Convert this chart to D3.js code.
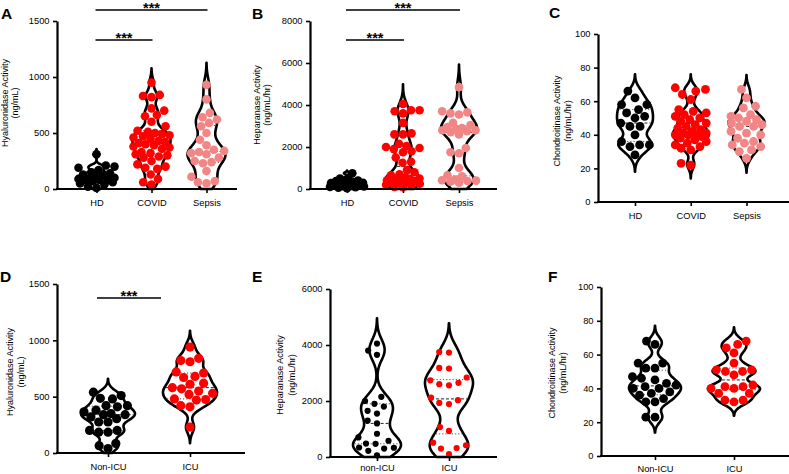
<!DOCTYPE html>
<html><head><meta charset="utf-8">
<script src="https://cdn.jsdelivr.net/npm/d3@7"></script>
<style>
body{margin:0;background:#fff}
text{font-family:"Liberation Sans",Arial,Helvetica,sans-serif;fill:#000}
</style>
</head><body>
<svg id="chart" width="789" height="474"></svg>
<script>
// ---------------- DATA ----------------
const groupCats = ["HD", "COVID", "Sepsis"];
const icuCatsD = ["Non-ICU", "ICU"];
const icuCatsE = ["non-ICU", "ICU"];
const icuCatsF = ["Non-ICU", "ICU"];

const hyalTicks = [0, 500, 1000, 1500];
const hepTicks = [0, 2000, 4000, 6000, 8000];
const chonTicks = [0, 20, 40, 60, 80, 100];
const icuHyalTicks = [0, 500, 1000, 1500];
const icuHepTicks = [0, 2000, 4000, 6000];
const icuChonTicks = [0, 20, 40, 60, 80, 100];

// A: Hyaluronidase (ng/mL)
const hyalHD = [310, 210, 200, 190, 170, 150, 140, 130, 120, 110, 100, 100, 90, 90, 80, 80, 70, 60, 50, 40, 20, 10];
const hyalCOVID = [950, 840, 830, 820, 720, 700, 660, 650, 600, 560, 520, 510, 500, 490, 480, 470, 460, 450, 430, 420, 410, 400, 390, 380, 370, 360, 330, 320, 310, 300, 290, 280, 250, 220, 200, 190, 180, 130, 90, 60, 40];
const hyalSepsis = [930, 800, 680, 640, 620, 590, 560, 500, 440, 390, 350, 340, 330, 320, 310, 280, 250, 240, 230, 160, 110, 70, 60, 50];

// B: Heparanase (ng/mL/hr)
const hepHD = [750, 500, 450, 400, 380, 350, 320, 300, 280, 260, 240, 220, 200, 180, 160, 140, 120, 100, 80, 60, 40];
const hepCOVID = [4050, 3750, 3750, 3700, 3600, 3150, 2650, 2600, 2600, 2150, 2050, 2000, 1950, 1900, 1800, 1750, 1500, 1300, 1250, 900, 800, 700, 650, 550, 500, 480, 450, 420, 400, 380, 350, 320, 300, 250, 200, 150, 100, 80];
const hepSepsis = [4850, 3700, 3650, 3600, 3550, 3150, 3050, 2950, 2900, 2850, 2800, 2800, 2750, 2700, 2600, 1950, 1750, 1700, 1000, 650, 600, 450, 420, 400, 380, 350, 300];

// C: Chondroitinase (ng/mL/hr)
const chonHD = [66, 62, 58, 58, 55, 53, 51, 50, 47, 45, 45, 40, 36, 34, 34, 33, 28];
const chonCOVID = [68, 67, 66, 64, 61, 55, 54, 53, 52, 51, 50, 49, 48, 47, 46, 45, 44, 43, 42, 41, 41, 40, 40, 40, 39, 38, 37, 36, 35, 34, 33, 32, 31, 23, 22];
const chonSepsis = [67, 62, 57, 56, 52, 51, 50, 49, 48, 47, 46, 45, 45, 42, 41, 40, 38, 36, 35, 34, 33, 31, 30, 26];

// D: Hyaluronidase by ICU status
const icuHyalNon = [540, 510, 485, 480, 420, 420, 410, 380, 365, 350, 340, 340, 320, 305, 275, 275, 200, 200, 185, 185, 85, 65, 40];
const icuHyalICU = [940, 840, 820, 810, 720, 710, 680, 670, 620, 610, 580, 570, 550, 530, 520, 480, 475, 470, 420, 410, 230];

// E: Heparanase by ICU status
const icuHepNon = [4050, 3800, 3650, 2150, 2000, 1900, 1800, 1650, 1550, 1300, 1200, 830, 700, 580, 480, 470, 340, 330, 300, 220, 60];
const icuHepICU = [3750, 3730, 3180, 3160, 2840, 2740, 2650, 2600, 2560, 2120, 2030, 1930, 1890, 1070, 930, 510, 420, 320, 300, 100];

// F: Chondroitinase by ICU status
const icuChonNon = [68, 66, 55, 55, 52, 52, 47, 46, 45, 43, 42, 41, 40, 40, 38, 37, 36, 34, 32, 32, 23, 23];
const icuChonICU = [68, 66, 64, 61, 55, 51, 51, 50, 50, 48, 42, 41, 41, 40, 40, 37, 37, 33, 33, 32];

const BLACK = "#000000", RED = "#ff0000", PINK = "#f28585";

// ---------------- LAYOUT ----------------
const panels = [
  {letter:"A", lx:1, ly:19, cats:groupCats, series:[hyalHD,hyalCOVID,hyalSepsis], colors:[BLACK,RED,PINK],
   ticks:hyalTicks, xr:[96.5,206.5], axX:[57,237], yr:[189,21], pad:6.5,
   title:["Hyaluronidase Activity","(ng/mL)"], tx:[5,15], ty:103, r:4.3, D:8.6, hw:19, cap:18,
   sig:[{a:0,b:2,y:10},{a:0,b:1,y:40}]},
  {letter:"B", lx:252, ly:19, cats:groupCats, series:[hepHD,hepCOVID,hepSepsis], colors:[BLACK,RED,PINK],
   ticks:hepTicks, xr:[347,459], axX:[310,497], yr:[189,21], pad:6.5,
   title:["Heparanase Activity","(ng/mL/hr)"], tx:[257,267], ty:105, r:4.3, D:8.6, hw:18, cap:17,
   sig:[{a:0,b:2,y:10},{a:0,b:1,y:40}]},
  {letter:"C", lx:549, ly:18, cats:groupCats, series:[chonHD,chonCOVID,chonSepsis], colors:[BLACK,RED,PINK],
   ticks:chonTicks, xr:[635,746.5], axX:[598,789], yr:[202,34], pad:6.5,
   title:["Chondroitinase Activity","(ng/mL/hr)"], tx:[557,568], ty:121, r:4.4, D:9.8, hw:18, cap:15.5, sig:[]},
  {letter:"D", lx:0, ly:282, cats:icuCatsD, series:[icuHyalNon,icuHyalICU], colors:[BLACK,RED],
   ticks:icuHyalTicks, xr:[108,190], axX:[57,245], yr:[453,284], pad:6,
   title:["Hyaluronidase Activity","(ng/mL)"], tx:[10,21], ty:372, r:4.6, D:9.3, hw:27, cap:24,
   sig:[{a:0,b:1,y:298,x0:97,x1:161}]},
  {letter:"E", lx:252, ly:282, cats:icuCatsE, series:[icuHepNon,icuHepICU], colors:[BLACK,RED],
   ticks:icuHepTicks, xr:[377,449], axX:[330,497], yr:[457,289], pad:3.5,
   title:["Heparanase Activity","(ng/mL/hr)"], tx:[280,292], ty:375, r:3.1, D:9.8, hw:24, cap:22, sig:[]},
  {letter:"F", lx:548, ly:282, cats:icuCatsF, series:[icuChonNon,icuChonICU], colors:[BLACK,RED],
   ticks:icuChonTicks, xr:[655,734], axX:[601,789], yr:[456,287], pad:5,
   title:["Chondroitinase Activity","(ng/mL/hr)"], tx:[552,563], ty:373, r:4.4, D:9.2, hw:26, cap:23, sig:[]}
];

const svg = d3.select("#chart");
const FONT = 9.3;
const BW_FACTOR = 0.62;

function gauss(vals, h) {
  return v => d3.sum(vals, x => Math.exp(-0.5 * ((v - x) / h) ** 2));
}

// beeswarm constrained to |x| <= cap; overlaps only where the band is too crowded
function swarm(vals, y, D, cap) {
  const pts = vals.map(v => ({v, y: y(v)})).sort((a, b) => b.y - a.y);
  const placed = [];
  for (const p of pts) {
    const cands = [0];
    for (const q of placed) {
      const dy = p.y - q.y;
      if (Math.abs(dy) < D) {
        const dx = Math.sqrt(D * D - dy * dy);
        cands.push(q.x + dx, q.x - dx);
      }
    }
    cands.sort((a, b) => Math.abs(a) - Math.abs(b) || a - b);
    let chosen = null;
    for (const c of cands) {
      if (Math.abs(c) > cap + 0.01) continue;
      const ok = placed.every(q => (c - q.x) ** 2 + (p.y - q.y) ** 2 >= D * D - 0.01);
      if (ok) { chosen = c; break; }
    }
    if (chosen === null) {
      let best = -1;
      for (let c = -cap; c <= cap + 0.001; c += 0.5) {
        const md = d3.min(placed, q => Math.hypot(c - q.x, p.y - q.y)) - Math.abs(c) * 0.02;
        if (md > best) { best = md; chosen = c; }
      }
    }
    p.x = chosen;
    placed.push(p);
  }
  return placed;
}

panels.forEach(P => {
  const g = svg.append("g");
  const dom = [P.ticks[0], P.ticks[P.ticks.length - 1]];
  const y = d3.scaleLinear().domain(dom).range(P.yr);
  const x = d3.scalePoint().domain(P.cats).range(P.xr);

  // panel letter
  g.append("text").attr("x", P.lx).attr("y", P.ly)
    .attr("font-size", 15.5).attr("font-weight", "bold").text(P.letter);

  // y title
  P.title.forEach((t, i) => {
    g.append("text")
      .attr("transform", `translate(${P.tx[i]},${P.ty}) rotate(-90)`)
      .attr("text-anchor", "middle").attr("dominant-baseline", "central")
      .attr("font-size", 9).text(t);
  });

  // violins
  P.series.forEach((vals, i) => {
    const cx = x(P.cats[i]);
    const s = vals.slice().sort(d3.ascending);
    const n = s.length;
    const sd = d3.deviation(s);
    const iqr = d3.quantile(s, 0.75) - d3.quantile(s, 0.25);
    const h = BW_FACTOR * 0.9 * Math.min(sd, iqr / 1.34) * Math.pow(n, -0.2);
    const lo = Math.max(dom[0], s[0] - 2.8 * h);
    const hi = Math.min(dom[1], s[n - 1] + 2.8 * h);
    const f = gauss(s, h);
    const grid = d3.range(141).map(k => lo + (hi - lo) * k / 140);
    const dens = grid.map(v => [v, f(v)]);
    const maxD = d3.max(dens, d => d[1]);
    const w = d3.scaleLinear().domain([0, maxD]).range([0, P.hw]);
    const area = d3.area()
      .y(d => y(d[0]))
      .x0(d => cx - w(d[1]))
      .x1(d => cx + w(d[1]))
      .curve(d3.curveCatmullRom);
    g.append("path").attr("d", area(dens))
      .attr("fill", "#fff").attr("stroke", "#000")
      .attr("stroke-width", 2.6).attr("stroke-linejoin", "round");

    // median and quartiles
    [[0.25, "1.2,2", "#555"], [0.5, "3,2", "#222"], [0.75, "1.2,2", "#555"]].forEach(([q, dash, col]) => {
      const qv = d3.quantile(s, q);
      const ww = w(f(qv)) - 1.5;
      g.append("line")
        .attr("x1", cx - ww).attr("x2", cx + ww)
        .attr("y1", y(qv)).attr("y2", y(qv))
        .attr("stroke", col).attr("stroke-width", 1)
        .attr("stroke-dasharray", dash);
    });

    // points
    const pts = swarm(s, y, P.D, P.cap);
    g.append("g").selectAll("circle").data(pts).join("circle")
      .attr("cx", d => cx + d.x).attr("cy", d => d.y)
      .attr("r", P.r).attr("fill", P.colors[i]);
  });

  // y axis
  const ya = g.append("g").attr("transform", `translate(${P.axX[0]},0)`)
    .call(d3.axisLeft(y).tickValues(P.ticks).tickSize(4).tickSizeOuter(0).tickPadding(3.5).tickFormat(d3.format("d")));
  ya.select(".domain").attr("stroke-width", 2.2);
  ya.selectAll(".tick line").attr("stroke-width", 1.6);
  ya.selectAll("text").attr("font-size", FONT).attr("font-family", null);

  // x axis
  const xa = g.append("g").attr("transform", `translate(0,${P.yr[0]})`)
    .call(d3.axisBottom(x).tickSize(4).tickPadding(P.pad));
  xa.select(".domain").remove();
  xa.selectAll(".tick line").attr("stroke-width", 1.6);
  xa.selectAll("text").attr("font-size", FONT).attr("font-family", null);
  g.append("line").attr("x1", P.axX[0] - 1).attr("x2", P.axX[1])
    .attr("y1", P.yr[0]).attr("y2", P.yr[0])
    .attr("stroke", "#000").attr("stroke-width", 2.2);

  // significance bars
  P.sig.forEach(sg => {
    const x0 = sg.x0 !== undefined ? sg.x0 : x(P.cats[sg.a]) - 1;
    const x1 = sg.x1 !== undefined ? sg.x1 : x(P.cats[sg.b]) + 1;
    g.append("line").attr("x1", x0).attr("x2", x1).attr("y1", sg.y).attr("y2", sg.y)
      .attr("stroke", "#000").attr("stroke-width", 1.5);
    g.append("text").attr("x", (x0 + x1) / 2).attr("y", sg.y + 2.5)
      .attr("text-anchor", "middle").attr("font-size", 14.5).attr("font-weight", "bold")
      .text("***");
  });
});
</script>
</body></html>
